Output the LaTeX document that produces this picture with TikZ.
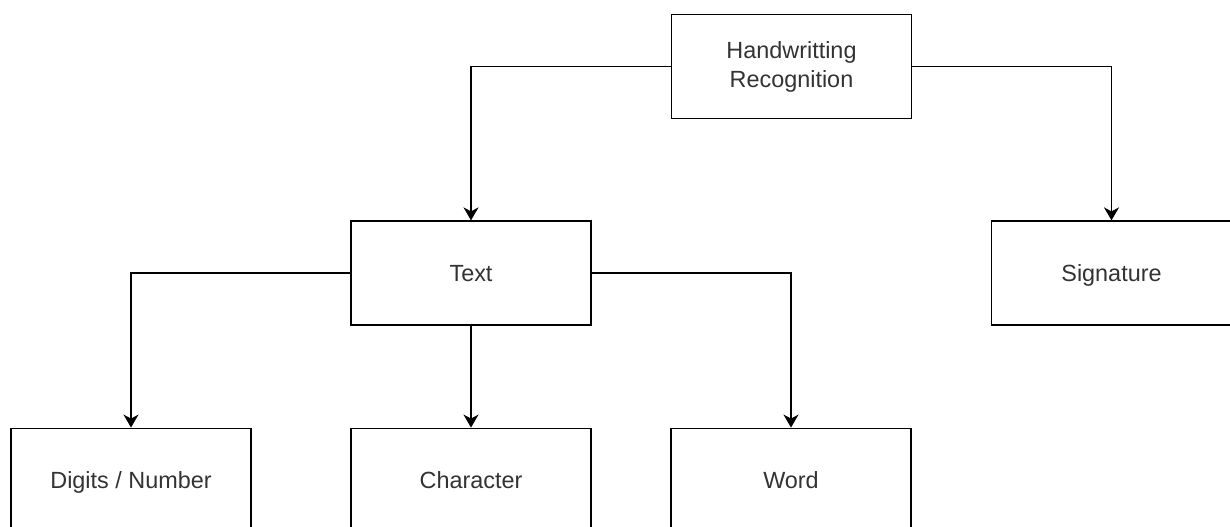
\documentclass[tikz,border=0pt]{standalone}
\usepackage{fontspec}
\setmainfont{Liberation Sans}
\usetikzlibrary{arrows.meta}
\definecolor{labelgray}{HTML}{333333}
\tikzset{
  box/.style={draw=black, line width=1.8bp, fill=white, minimum width=240bp, minimum height=104bp,
    inner sep=0pt, align=center, text=labelgray, text height=16.6bp, text depth=0bp,
    font=\fontsize{23.4bp}{29bp}\selectfont},
  link/.style={draw=black, line width=1.8bp,
    -{Stealth[length=13bp, width=15bp, inset=4bp]}}
}
\begin{document}
\begin{tikzpicture}[x=1bp, y=-1bp]
  \useasboundingbox (0,0) rectangle (1230,527);
  \clip (0,0) rectangle (1230,527);
  % tree of boxes
  \node[box, text height=, text depth=] (hr) at (791.5, 66.5) {Handwritting\\Recognition};
  \node[box] (text) at (471, 273.3)  {Text};
  \node[box] (sig)  at (1111.5, 273.3) {Signature};
  \node[box] (dig)  at (131, 480.5)  {Digits / Number};
  \node[box] (chr)  at (471, 480.5)  {Character};
  \node[box] (word) at (791, 480.5)  {Word};
  % connectors
  \draw[link] (hr.west) -| (text.north);
  \draw[link] (hr.east) -| (sig.north);
  \draw[link] (text.west) -| (dig.north);
  \draw[link] (text.south) -- (chr.north);
  \draw[link] (text.east) -| (word.north);
\end{tikzpicture}
\end{document}
